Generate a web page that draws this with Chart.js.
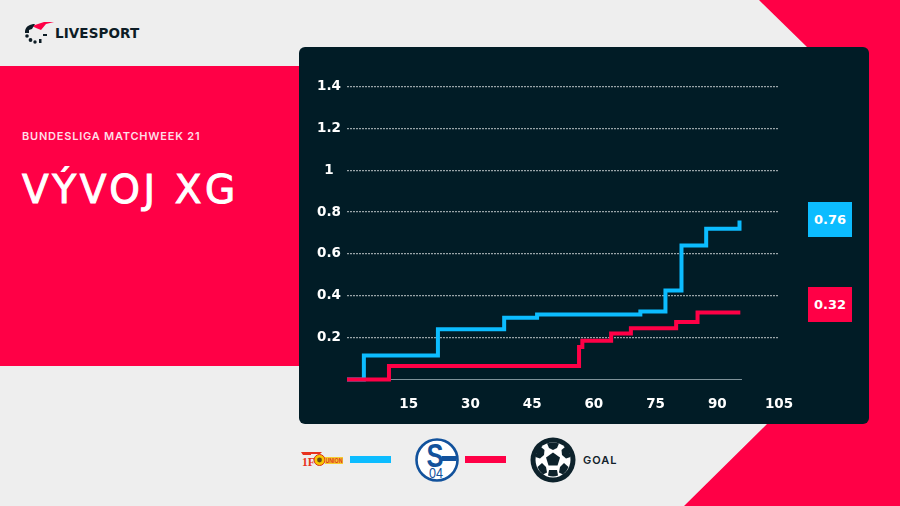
<!DOCTYPE html>
<html>
<head>
<meta charset="utf-8">
<script src="https://cdn.jsdelivr.net/npm/chart.js@4"></script>
<style>
html, body { margin: 0; padding: 0; }
body { width: 900px; height: 506px; overflow: hidden; background: #eeeeee; position: relative; font-family: Inter, sans-serif; }
.abs { position: absolute; }
#corner { left: 0; top: 0; width: 900px; height: 506px; background: #ff0046;
  clip-path: polygon(759px 0, 900px 0, 900px 506px, 684px 506px, 767px 424px, 807px 47px); }
#band { left: 0; top: 66px; width: 310px; height: 300px; background: #ff0046; }
#panel { left: 299px; top: 47px; width: 570px; height: 377px; background: #011c26; border-radius: 6px; }
#panel canvas { display: block; }
#brand { left: 55px; top: 24px; font: 700 13.5px "DejaVu Sans", sans-serif; letter-spacing: 0.1px; color: #0d1c25; line-height: 18px; }
#sub { left: 22px; top: 129px; font: 600 11px Inter, sans-serif; letter-spacing: 0.78px; color: #ffdde6; line-height: 14px; white-space: nowrap; }
#title { left: 22px; top: 166px; font: 400 39px "DejaVu Sans", sans-serif; letter-spacing: 3.6px; color: #fff; -webkit-text-stroke: 1px #fff; line-height: 48px; white-space: nowrap; }
.box { width: 44px; height: 35px; left: 808px; color: #fff; font: 700 13px "DejaVu Sans", sans-serif; text-align: center; line-height: 35px; }
.key { width: 41px; height: 7px; top: 456px; }
#goal { left: 583px; top: 453px; font: 600 11px Inter, sans-serif; letter-spacing: 1px; color: #12222b; line-height: 14px; }
</style>
</head>
<body>
<div class="abs" id="corner"></div>
<div class="abs" id="band"></div>

<svg class="abs" style="left:24px;top:21px" width="30" height="24" viewBox="0 0 30 24">
  <path d="M8 5 L20 1 L30 1 L22 3 L17 9 L12 7 Z" fill="#ff0046"/>
  <path d="M1 10 C2 5 6 3 11 3 L8 8 L5 9 L5 12 L1 12 Z" fill="#0d1c25"/>
  <circle cx="3" cy="15" r="1.8" fill="#0d1c25"/>
  <circle cx="6.5" cy="19" r="1.9" fill="#0d1c25"/>
  <circle cx="11" cy="21" r="1.7" fill="#0d1c25"/>
  <rect x="15" y="18" width="2.5" height="4" fill="#0d1c25"/>
  <rect x="19" y="13" width="4" height="2" fill="#0d1c25"/>
</svg>
<div class="abs" id="brand">LIVESPORT</div>
<div class="abs" id="sub">BUNDESLIGA MATCHWEEK 21</div>
<div class="abs" id="title">VÝVOJ XG</div>

<div class="abs" id="panel"><canvas id="chart" width="570" height="377"></canvas></div>
<div class="abs box" id="boxBlue" style="top:202px;background:#0cbcff"></div>
<div class="abs box" id="boxRed" style="top:287px;background:#ff0046"></div>

<svg class="abs" style="left:300px;top:450px" width="44" height="20" viewBox="0 0 44 20">
  <path d="M1 2 H22 L20 4 H11 L11 5 H3 Z" fill="#e8321e"/>
  <text x="2" y="16" font-family="Liberation Serif" font-weight="700" font-size="13" textLength="13" lengthAdjust="spacingAndGlyphs" fill="#e8321e">1F</text>
  <circle cx="19.5" cy="10" r="5.5" fill="#f7c600" stroke="#d9301c" stroke-width="1"/>
  <circle cx="19.5" cy="10" r="2.4" fill="#6b4a12"/>
  <rect x="25" y="7" width="18" height="7" fill="#f5cc30"/>
  <text x="25.5" y="13" font-family="Liberation Sans" font-weight="700" font-size="6.4" textLength="17" lengthAdjust="spacingAndGlyphs" fill="#e0331d">UNION</text>
</svg>
<div class="abs key" style="left:350px;background:#0cbcff"></div>

<svg class="abs" style="left:415px;top:438px" width="44" height="44" viewBox="0 0 44 44">
  <circle cx="22" cy="22" r="20.5" fill="#fff" stroke="#12529c" stroke-width="2.6"/>
  <path d="M27 18 H41.5 V23 H27 Z" fill="#12529c"/>
  <text x="20" y="29" text-anchor="middle" font-family="Liberation Sans" font-weight="700" font-size="33" textLength="17" lengthAdjust="spacingAndGlyphs" fill="#12529c">S</text>
  <text x="21" y="40" text-anchor="middle" font-family="Liberation Sans" font-size="14" textLength="14" lengthAdjust="spacingAndGlyphs" fill="#12529c">04</text>
</svg>
<div class="abs key" style="left:465px;background:#ff0046"></div>

<svg class="abs" style="left:530px;top:437px" width="46" height="46" viewBox="0 0 46 46">
  <circle cx="23" cy="23" r="22.5" fill="#0d222b"/>
  <circle cx="23" cy="23" r="17.5" fill="#fff"/>
  <path d="M23 15.5 L30 20.5 L27.5 28.5 H18.5 L16 20.5 Z" fill="#0d222b"/>
  <path d="M17 6.5 Q23 4.5 29 6.5 L27 11 L23 13 L19 11 Z" fill="#0d222b"/>
  <path d="M5.5 20 Q6.5 13 10.5 9.5 L14.5 13 L14 18 L10 21.5 Z" fill="#0d222b"/>
  <path d="M40.5 20 Q39.5 13 35.5 9.5 L31.5 13 L32 18 L36 21.5 Z" fill="#0d222b"/>
  <path d="M7.5 30 L12 26 L16 30 L17 35.5 L13 37.5 Q9 34.5 7.5 30 Z" fill="#0d222b"/>
  <path d="M38.5 30 L34 26 L30 30 L29 35.5 L33 37.5 Q37 34.5 38.5 30 Z" fill="#0d222b"/>
  <path d="M19 33 H27 L28 38.5 Q23 40.5 18 38.5 Z" fill="#0d222b"/>
</svg>
<div class="abs" id="goal">GOAL</div>

<script>
// minute of each xG change
const blueMinutes = [0, 4.1, 22.1, 38.2, 46.2, 71.3, 77.4, 81.3, 87.3, 95.4];
const blueValues = [0, 0.115, 0.24, 0.295, 0.31, 0.325, 0.425, 0.64, 0.72, 0.76];
const redMinutes = [0, 10.2, 56.4, 57.2, 64.2, 69, 80, 85.2, 95.6];
const redValues = [0, 0.065, 0.155, 0.185, 0.22, 0.245, 0.275, 0.32, 0.32];
const baseMinutes = [0, 96];
const baseValues = [0, 0];
const yTickLabels = { 0.2: '0.2', 0.4: '0.4', 0.6: '0.6', 0.8: '0.8', 1: '1', 1.2: '1.2', 1.4: '1.4' };
const blueTotal = '0.76';
const redTotal = '0.32';

const BLUE = '#0cbcff';
const RED = '#ff0046';

document.getElementById('boxBlue').textContent = blueTotal;
document.getElementById('boxRed').textContent = redTotal;

function toPoints(xs, ys) {
  return xs.map((x, i) => ({ x: x, y: ys[i] }));
}

function stepLine(xs, ys, color, width, order) {
  return {
    data: toPoints(xs, ys),
    borderColor: color,
    borderWidth: width,
    stepped: true,
    pointRadius: 0,
    fill: false,
    clip: false,
    borderJoinStyle: 'miter',
    order: order
  };
}

new Chart(document.getElementById('chart'), {
  type: 'line',
  data: {
    datasets: [
      stepLine(redMinutes, redValues, RED, 4, 1),
      stepLine(blueMinutes, blueValues, BLUE, 4, 2),
      stepLine(baseMinutes, baseValues, '#7f9299', 1, 3)
    ]
  },
  options: {
    responsive: false,
    animation: false,
    layout: { padding: { top: 39.5, right: 90, bottom: 0, left: 0 } },
    plugins: { legend: { display: false }, tooltip: { enabled: false } },
    scales: {
      x: {
        type: 'linear',
        min: 0,
        max: 105,
        afterFit: (s) => { s.height = 44.5; },
        border: { display: false },
        grid: { display: false },
        ticks: {
          stepSize: 15,
          padding: 9,
          maxRotation: 0,
          color: '#ffffff',
          font: { family: 'DejaVu Sans', size: 13.5, weight: 'bold' },
          callback: (v) => (v === 0 ? '' : String(v))
        }
      },
      y: {
        min: 0,
        max: 1.4,
        afterFit: (s) => { s.width = 48; },
        // the grid in the picture is finely dotted
        border: { display: false, dash: [2, 1] },
        grid: {
          drawTicks: false,
          lineWidth: 1.3,
          color: (c) => (c.tick.value === 0 ? 'transparent' : 'rgba(255,255,255,0.6)')
        },
        ticks: {
          stepSize: 0.2,
          padding: 6,
          crossAlign: 'center',
          color: '#ffffff',
          font: { family: 'DejaVu Sans', size: 13.5, weight: 'bold' },
          callback: (v) => yTickLabels[Math.round(v * 10) / 10] || ''
        }
      }
    }
  }
});
</script>
</body>
</html>
